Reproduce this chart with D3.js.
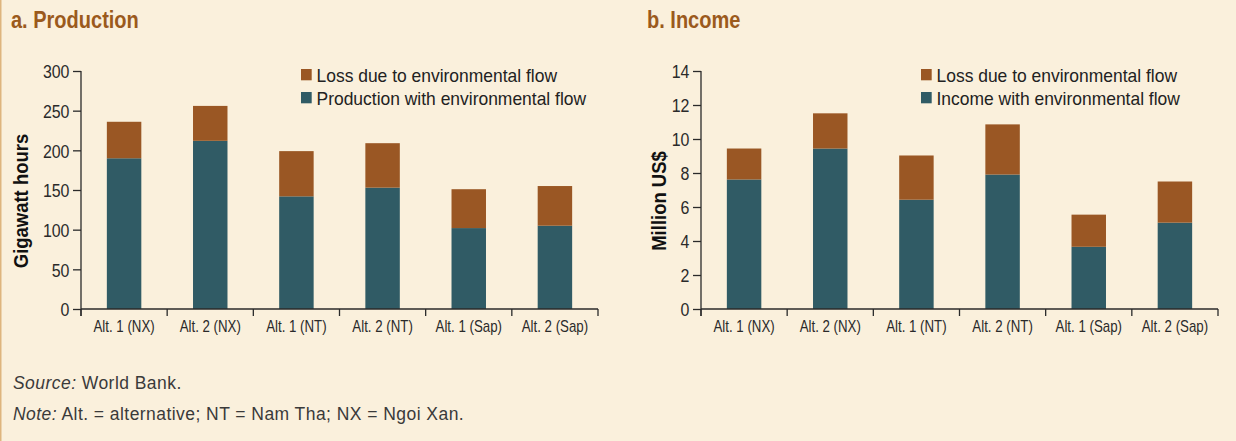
<!DOCTYPE html>
<html>
<head>
<meta charset="utf-8">
<script src="https://cdn.jsdelivr.net/npm/d3@7"></script>
<style>
  html, body { margin: 0; padding: 0; background: #faf0dc; }
  svg { display: block; }
</style>
</head>
<body>
<svg id="chart" width="1236" height="441"></svg>
<script>
// ---- data ----
const categories = ["Alt. 1 (NX)", "Alt. 2 (NX)", "Alt. 1 (NT)", "Alt. 2 (NT)", "Alt. 1 (Sap)", "Alt. 2 (Sap)"];
const productionWith = [190, 212, 142, 153, 102, 105];
const productionLoss = [46, 44, 57, 56, 49, 50];
const incomeWith = [7.62, 9.44, 6.43, 7.91, 3.66, 5.08];
const incomeLoss = [1.82, 2.07, 2.60, 2.95, 1.89, 2.42];
const productionTicks = [0, 50, 100, 150, 200, 250, 300];
const incomeTicks = [0, 2, 4, 6, 8, 10, 12, 14];
const seriesColors = { loss: "#9a5724", base: "#305b65" };

const svg = d3.select("#chart");
const FONT = '"Liberation Sans", Arial, sans-serif';

// background + left rule
svg.append("rect").attr("x", 0).attr("y", 0).attr("width", 1236).attr("height", 441).attr("fill", "#faf0dc");
svg.append("rect").attr("x", 0).attr("y", 0).attr("width", 1.5).attr("height", 441).attr("fill", "#deb57e");

// condensed text helper: places text at (x,y) squeezed horizontally by k
function ctext(parent, x, y, k, str) {
  return parent.append("text").attr("transform", `translate(${x},${y}) scale(${k},1)`).text(str);
}

function panel(opts) {
  const g = svg.append("g");
  // title
  ctext(g, opts.titleX, 28.3, 0.87, opts.title)
    .attr("font-family", FONT).attr("font-weight", "bold").attr("font-size", 23).attr("fill", "#9b5a1c");

  const x = d3.scaleBand().domain(categories).range([opts.x0, opts.x1]).paddingInner(0.6).paddingOuter(0.3);
  const y = d3.scaleLinear().domain([0, opts.yMax]).range([309, 71]);

  // bars
  const data = categories.map((c, i) => ({ c, base: opts.base[i], loss: opts.loss[i] }));
  g.selectAll("rect.base").data(data).join("rect").attr("class", "base")
    .attr("x", d => x(d.c)).attr("width", x.bandwidth())
    .attr("y", d => y(d.base)).attr("height", d => y(0) - y(d.base))
    .attr("fill", seriesColors.base);
  g.selectAll("rect.loss").data(data).join("rect").attr("class", "loss")
    .attr("x", d => x(d.c)).attr("width", x.bandwidth())
    .attr("y", d => y(d.base + d.loss)).attr("height", d => y(d.base) - y(d.base + d.loss))
    .attr("fill", seriesColors.loss);

  // y axis
  const kY = 0.84;
  const ya = g.append("g").attr("transform", `translate(${opts.x0},0)`)
    .call(d3.axisLeft(y).tickValues(opts.ticks).tickSize(8).tickSizeOuter(0).tickPadding(3.5));
  ya.select(".domain").attr("stroke", "#2a2a2a").attr("stroke-width", 1.3).attr("d", `M0,${y(opts.yMax)}V316`);
  ya.selectAll(".tick line").attr("stroke", "#2a2a2a").attr("stroke-width", 1.3);
  ya.selectAll(".tick text").attr("font-family", FONT).attr("font-size", 19).attr("fill", "#2a2a2a")
    .attr("x", -11.5 / kY).attr("dy", "0.36em").attr("transform", `scale(${kY},1)`);

  // x axis
  const kX = 0.83;
  const xa = g.append("g").attr("transform", `translate(0,309)`)
    .call(d3.axisBottom(x).tickSize(0).tickPadding(0));
  xa.select(".domain").attr("stroke", "#2a2a2a").attr("stroke-width", 1.3).attr("d", `M${opts.x0},0H${opts.x1}`);
  xa.selectAll(".tick text").attr("font-family", FONT).attr("font-size", 16).attr("fill", "#2a2a2a")
    .attr("y", 23).attr("dy", 0).attr("transform", `scale(${kX},1)`);
  const bounds = categories.map(c => x(c) - x.step() * 0.3).concat([opts.x1]);
  xa.selectAll("line.bnd").data(bounds).join("line").attr("class", "bnd")
    .attr("x1", d => d).attr("x2", d => d).attr("y1", 0).attr("y2", 7)
    .attr("stroke", "#2a2a2a").attr("stroke-width", 1.3);

  // y title
  g.append("text").attr("transform", `translate(${opts.yTitleX},201) rotate(-90) scale(0.88,1)`)
    .attr("text-anchor", "middle").attr("font-family", FONT).attr("font-weight", "bold")
    .attr("font-size", 21).attr("fill", "#111").text(opts.yTitle);

  // legend
  const lg = g.append("g").attr("transform", `translate(${opts.legX},0)`);
  const items = [{ label: opts.legLoss, color: seriesColors.loss }, { label: opts.legBase, color: seriesColors.base }];
  items.forEach((it, i) => {
    const top = 69 + i * 23;
    lg.append("rect").attr("x", 0).attr("y", top).attr("width", 10.7).attr("height", 11.3).attr("fill", it.color);
    ctext(lg, 15.5, top + 12.7, 0.97, it.label).attr("font-family", FONT)
      .attr("font-size", 18).attr("fill", "#222");
  });
}

panel({ title: "a. Production", titleX: 11, x0: 81, x1: 598, yMax: 300, ticks: productionTicks,
  base: productionWith, loss: productionLoss, yTitle: "Gigawatt hours", yTitleX: 28,
  legX: 301, legLoss: "Loss due to environmental flow", legBase: "Production with environmental flow" });
panel({ title: "b. Income", titleX: 647, x0: 701, x1: 1218, yMax: 14, ticks: incomeTicks,
  base: incomeWith, loss: incomeLoss, yTitle: "Million US$", yTitleX: 666,
  legX: 921, legLoss: "Loss due to environmental flow", legBase: "Income with environmental flow" });

// notes
const notes = svg.append("g").attr("font-family", FONT).attr("font-size", 17.5)
  .attr("letter-spacing", 0.45).attr("fill", "#3a3a3a");
const s = notes.append("text").attr("x", 13).attr("y", 389);
s.append("tspan").attr("font-style", "italic").text("Source:");
s.append("tspan").text(" World Bank.");
const n = notes.append("text").attr("x", 13).attr("y", 420);
n.append("tspan").attr("font-style", "italic").text("Note:");
n.append("tspan").text(" Alt. = alternative; NT = Nam Tha; NX = Ngoi Xan.");
</script>
</body>
</html>
